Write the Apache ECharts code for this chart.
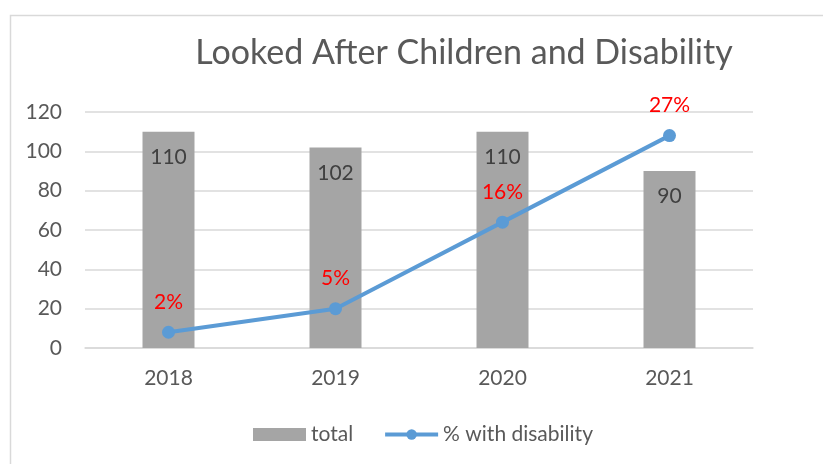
<!DOCTYPE html>
<html>
<head>
<meta charset="utf-8">
<script src="https://cdn.jsdelivr.net/npm/echarts@6/dist/echarts.min.js"></script>
<style>html,body{margin:0;padding:0;background:#fff;}#c{width:823px;height:464px;}</style>
</head>
<body>
<div id="c"></div>
<script>
const categories = ['2018', '2019', '2020', '2021'];
const totalValues = [110, 102, 110, 90];
const disabilityValues = [8, 20, 64, 108];
const disabilityLabels = ['2%', '5%', '16%', '27%'];
const yTicks = { min: 0, max: 120, interval: 20 };

const FONT = 'Lato';
const chart = echarts.init(document.getElementById('c'));
chart.setOption({
  backgroundColor: '#fff',
  animation: false,
  textStyle: { fontFamily: FONT },
  title: {
    text: 'Looked After Children and Disability',
    left: 459, top: 31,
    textAlign: 'center',
    textStyle: { fontFamily: FONT, fontSize: 34, fontWeight: 'normal', color: '#595959' }
  },
  graphic: [{
    type: 'rect', left: 8, top: 13, silent: true, z: -1,
    shape: { width: 830, height: 470 },
    style: { fill: 'none', stroke: '#d9d9d9', lineWidth: 1.5 }
  }],
  legend: {
    top: 419, left: 248,
    itemGap: 30, itemWidth: 53, itemHeight: 13,
    textStyle: { fontFamily: FONT, fontSize: 21, color: '#595959' },
    data: [
      { name: 'total', icon: 'rect' },
      { name: '% with disability', lineStyle: { width: 4 } }
    ]
  },
  grid: { left: 85, right: 70, top: 112, bottom: 116 },
  xAxis: {
    type: 'category', data: categories,
    axisLine: { lineStyle: { color: '#d9d9d9', width: 1.5 } },
    axisTick: { show: false },
    axisLabel: { fontFamily: FONT, fontSize: 21, color: '#595959', margin: 20 }
  },
  yAxis: {
    type: 'value', min: yTicks.min, max: yTicks.max, interval: yTicks.interval,
    axisLine: { show: false }, axisTick: { show: false },
    splitLine: { lineStyle: { color: '#d9d9d9', width: 1.5 } },
    axisLabel: { fontFamily: FONT, fontSize: 21, color: '#595959', margin: 23 }
  },
  series: [
    {
      name: 'total', type: 'bar', data: totalValues, barWidth: 52,
      itemStyle: { color: '#a5a5a5' },
      label: { show: true, position: 'insideTop', distance: 15, fontFamily: FONT, fontSize: 21, color: '#404040' }
    },
    {
      name: '% with disability', type: 'line', data: disabilityValues,
      symbol: 'circle', symbolSize: 13,
      lineStyle: { color: '#5b9bd5', width: 4 },
      itemStyle: { color: '#5b9bd5' },
      label: {
        show: true, position: 'top', distance: 13,
        fontFamily: FONT, fontSize: 21, color: '#ff0000',
        formatter: p => disabilityLabels[p.dataIndex]
      }
    }
  ]
});
</script>
</body>
</html>
